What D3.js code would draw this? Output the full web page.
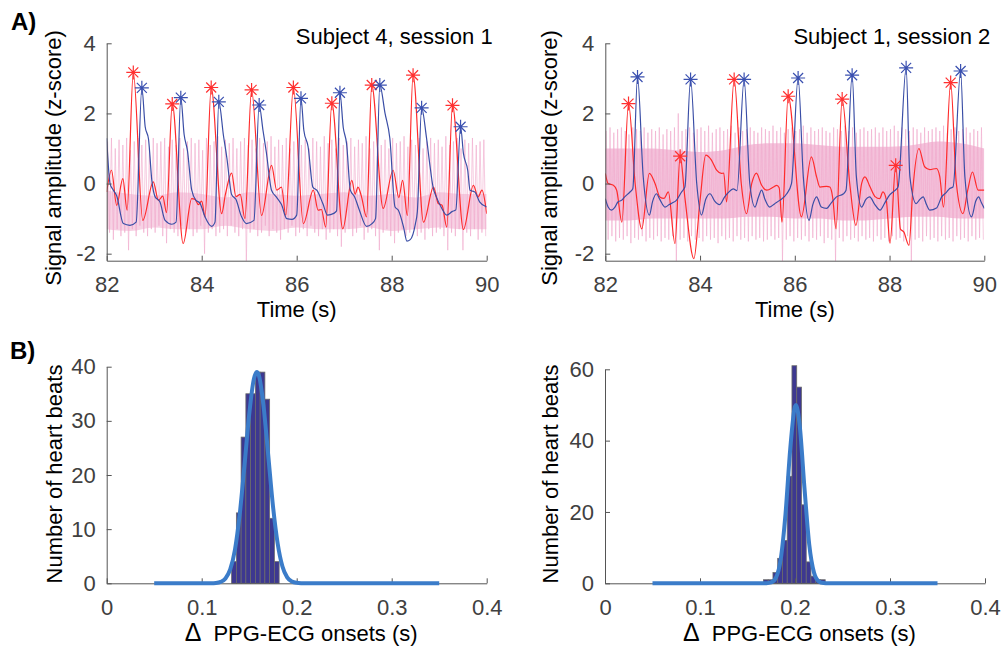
<!DOCTYPE html>
<meta charset="utf-8">
<script src="https://cdn.jsdelivr.net/npm/d3@7"></script>
<style>
body {margin: 0; background: #fff;}
svg text {font-family: "Liberation Sans", Arial, sans-serif;}
.axis path, .axis line {stroke: #555; stroke-width: 1;}
.axis text {fill: #404040; font-size: 22px; font-family: "Liberation Sans", Arial, sans-serif;}
</style>
<div id="vis"></div>
<script>
// ---- data ----
var timeTicks = [82, 84, 86, 88, 90];
var ampTicks = [-2, 0, 2, 4];
var delayTicks = [0, 0.1, 0.2, 0.3, 0.4];
var countTicksL = [0, 10, 20, 30, 40];
var countTicksR = [0, 20, 40, 60];

// Subject 4, session 1 : ECG (red) and PPG (blue), [time, z-score]
var ecgL = [[82.0,-0.24],[82.1,0.38],[82.21,-0.62],[82.34,0.14],[82.43,-0.76],[82.56,3.17],[82.76,-1.05],[82.98,0.05],[83.09,-0.48],[83.18,-0.36],[83.26,-0.83],[83.38,2.27],[83.61,-1.71],[83.79,-0.43],[83.86,-0.45],[83.93,-0.6],[84.0,-0.5],[84.07,-0.95],[84.2,2.74],[84.42,-0.86],[84.5,-0.3],[84.63,0.3],[84.72,-0.37],[84.81,-0.31],[84.91,-1.0],[85.05,2.67],[85.26,-0.91],[85.47,0.52],[85.58,-0.19],[85.68,-0.1],[85.77,-0.91],[85.93,2.74],[86.14,-1.14],[86.35,-0.19],[86.45,-0.76],[86.52,-0.74],[86.61,-1.24],[86.74,2.29],[86.97,-1.29],[87.16,0.09],[87.23,-0.3],[87.29,-0.1],[87.36,-0.35],[87.47,-0.95],[87.58,2.81],[87.82,-0.71],[88.03,0.38],[88.15,-0.4],[88.23,0.09],[88.33,-0.91],[88.45,3.09],[88.67,-1.1],[88.88,-0.1],[88.98,-0.57],[89.06,-0.62],[89.16,-1.24],[89.28,2.23],[89.51,-1.31],[89.72,-0.05],[89.82,-0.38],[89.9,-0.19],[90.0,-0.86]];
var ppgL = [[82.0,1.29],[82.07,0.0],[82.14,-0.19],[82.21,-0.35],[82.35,-1.14],[82.49,-1.19],[82.62,-1.1],[82.74,2.73],[82.81,1.62],[82.88,1.27],[82.95,0.09],[83.02,-0.38],[83.12,-0.52],[83.23,-1.05],[83.37,-1.16],[83.46,-1.1],[83.56,2.45],[83.63,1.4],[83.70,0.94],[83.79,-0.19],[83.88,-0.48],[83.96,-0.55],[84.07,-0.95],[84.21,-1.22],[84.28,-1.1],[84.36,2.33],[84.46,1.35],[84.53,0.73],[84.63,-0.31],[84.72,-0.45],[84.84,-0.95],[84.94,-1.14],[85.1,-1.05],[85.21,2.24],[85.29,1.52],[85.36,0.9],[85.47,-0.19],[85.57,-0.38],[85.68,-0.6],[85.79,-1.0],[85.9,-1.02],[86.0,-0.9],[86.09,2.43],[86.15,1.52],[86.24,1.05],[86.34,-0.1],[86.43,-0.2],[86.55,-0.57],[86.65,-0.9],[86.78,-0.85],[86.84,-0.78],[86.91,2.59],[86.98,1.6],[87.05,1.14],[87.13,-0.19],[87.22,-0.38],[87.32,-0.76],[87.47,-1.22],[87.58,-1.15],[87.66,-1.0],[87.75,2.81],[87.86,2.0],[87.96,1.3],[88.07,-0.67],[88.14,-0.76],[88.25,-1.24],[88.32,-1.64],[88.39,-1.6],[88.50,-1.14],[88.54,-0.8],[88.63,2.16],[88.73,1.33],[88.80,0.57],[88.87,-0.1],[88.94,-0.38],[89.04,-0.67],[89.16,-0.9],[89.27,-0.8],[89.35,-0.75],[89.45,1.62],[89.51,0.86],[89.6,0.38],[89.65,-0.19],[89.75,-0.24],[89.85,-0.52],[90.0,-0.67]];
var ecgPeakTL = [82.56,83.38,84.20,85.05,85.93,86.74,87.58,88.45,89.28];
var ecgPeakVL = [3.17,2.27,2.74,2.67,2.74,2.29,2.81,3.09,2.23];
var ppgPeakTL = [82.74,83.56,84.36,85.21,86.09,86.91,87.75,88.63,89.45];
var ppgPeakVL = [2.73,2.45,2.33,2.24,2.43,2.59,2.81,2.16,1.62];

// Subject 1, session 2
var ecgR = [[82.0,0.29],[82.06,0.0],[82.17,-0.05],[82.24,-0.19],[82.35,-1.1],[82.49,2.28],[82.63,0.0],[82.77,-1.29],[82.93,0.29],[83.05,0.0],[83.15,-0.38],[83.24,-0.42],[83.33,-0.24],[83.47,-1.71],[83.58,0.78],[83.68,-0.4],[83.87,-2.14],[84.0,-0.48],[84.12,0.81],[84.24,0.67],[84.35,0.38],[84.45,0.29],[84.5,0.3],[84.56,-0.52],[84.72,2.97],[84.87,0.0],[84.98,-0.86],[85.09,0.0],[85.19,0.3],[85.3,-0.05],[85.41,-0.19],[85.55,-0.1],[85.62,-0.05],[85.67,-0.12],[85.73,-1.1],[85.86,2.49],[86.14,-0.95],[86.35,0.76],[86.46,0.19],[86.53,-0.1],[86.67,-0.08],[86.74,-0.1],[86.8,-0.4],[86.87,-1.29],[87.0,2.41],[87.16,0.0],[87.29,-1.19],[87.41,0.0],[87.48,0.19],[87.59,-0.1],[87.70,-0.38],[87.79,-0.43],[87.86,-0.24],[87.93,-0.45],[88.01,-1.7],[88.13,0.52],[88.23,-1.3],[88.3,-1.38],[88.41,-1.76],[88.49,-0.19],[88.62,1.0],[88.74,0.48],[88.85,0.4],[88.99,0.43],[89.06,0.2],[89.14,-0.67],[89.29,2.88],[89.41,0.0],[89.55,-0.86],[89.65,-0.19],[89.75,0.33],[89.87,-0.19],[90.0,-0.19]];
var ppgR = [[82.0,-0.43],[82.06,-0.67],[82.13,-0.76],[82.2,-0.68],[82.27,-0.52],[82.34,-0.48],[82.41,-0.38],[82.52,-0.24],[82.58,-0.15],[82.68,3.04],[82.80,0.2],[82.93,-0.9],[83.0,-0.5],[83.08,-0.29],[83.15,-0.45],[83.26,-0.67],[83.35,-0.6],[83.42,-0.55],[83.50,-0.48],[83.61,-0.24],[83.68,-0.1],[83.80,2.97],[83.93,0.0],[84.03,-0.9],[84.12,-0.45],[84.21,-0.29],[84.31,-0.5],[84.41,-0.6],[84.52,-0.38],[84.6,-0.25],[84.7,-0.15],[84.78,-0.2],[84.93,2.97],[85.05,0.0],[85.16,-0.67],[85.23,-0.4],[85.30,-0.19],[85.37,-0.45],[85.47,-0.67],[85.57,-0.58],[85.68,-0.48],[85.83,-0.29],[85.93,0.0],[86.07,3.01],[86.18,0.19],[86.30,-1.05],[86.38,-0.6],[86.46,-0.38],[86.56,-0.67],[86.67,-0.71],[86.77,-0.55],[86.88,-0.38],[87.02,-0.3],[87.08,-0.2],[87.21,3.09],[87.30,0.19],[87.41,-0.67],[87.5,-0.45],[87.58,-0.38],[87.69,-0.6],[87.80,-0.76],[87.9,-0.55],[88.0,-0.33],[88.11,-0.2],[88.18,-0.1],[88.35,3.3],[88.43,0.19],[88.56,-0.57],[88.64,-0.45],[88.71,-0.38],[88.78,-0.6],[88.85,-0.76],[88.99,-0.7],[89.1,-0.38],[89.2,-0.25],[89.27,-0.14],[89.34,-0.1],[89.50,3.21],[89.59,0.19],[89.73,-0.95],[89.82,-0.5],[89.88,-0.38],[89.94,-0.55],[90.0,-0.71]];
var ecgPeakTR = [82.49,83.58,84.72,85.86,87.0,88.13,89.29];
var ecgPeakVR = [2.28,0.78,2.97,2.49,2.41,0.52,2.88];
var ppgPeakTR = [82.68,83.80,84.93,86.07,87.21,88.35,89.50];
var ppgPeakVR = [3.04,2.97,2.97,3.01,3.09,3.3,3.21];

// pink high-frequency trace: one crest and one trough per 0.08 s
var pinkStep = 0.08;
var pinkTopL = [1.2,1.3,1.0,1.25,1.1,1.3,0.95,1.2,1.3,1.1, 1.25,1.0,1.3,1.15,1.2,1.3,1.05,1.25,1.1,1.3, 1.0,1.2,1.3,1.15,1.25,0.95,1.3,1.1,1.2,1.35, 1.05,1.25,1.15,1.3,1.0,1.2,1.3,1.1,1.25,1.0, 1.3,1.15,1.2,1.35,1.05,1.25,1.1,1.3,1.0,1.2, 1.3,1.1,1.25,1.0,1.3,1.2,1.05,1.35,1.15,1.25, 1.0,1.3,1.1,1.2,1.3,1.05,1.25,1.15,1.35,1.0, 1.2,1.3,1.1,1.25,1.0,1.3,1.15,1.2,1.35,1.05, 1.25,1.1,1.3,1.0,1.2,1.3,1.15,1.25,1.05,1.35, 1.1,1.2,1.3,1.0,1.25,1.15,1.3,1.1,1.2,1.25];
var pinkBotL = [-1.4,-1.6,-1.3,-1.5,-1.4,-1.9,-1.3,-1.5,-1.2,-1.4, -1.5,-1.3,-1.4,-1.2,-1.5,-1.7,-1.3,-1.4,-1.5,-1.2, -1.4,-1.3,-1.5,-1.4,-1.2,-2.0,-1.4,-1.3,-1.5,-1.4, -1.3,-1.5,-1.2,-1.4,-1.5,-1.3,-2.25,-1.4,-1.3,-1.5, -1.4,-1.2,-1.5,-1.3,-1.4,-1.6,-1.3,-1.4,-1.2,-1.5, -1.4,-1.3,-1.5,-1.2,-1.4,-1.5,-1.3,-1.6,-1.4,-1.3, -1.5,-1.8,-1.4,-1.3,-1.5,-1.4,-1.2,-1.6,-1.4,-1.3, -1.5,-1.9,-1.4,-1.3,-1.5,-1.7,-1.4,-1.3,-1.5,-1.4, -1.3,-1.5,-1.4,-1.6,-1.3,-1.5,-1.4,-1.3,-1.5,-1.9, -1.4,-1.5,-1.3,-1.9,-1.4,-1.5,-1.3,-1.6,-1.4,-1.5];
var pinkTopR = [1.5,1.6,1.45,1.55,1.6,1.5,1.4,1.6,1.55,1.5, 1.6,1.45,1.55,1.5,1.6,1.4,1.55,1.5,1.6,2.0, 1.5,1.55,1.6,1.45,1.55,1.6,1.5,1.65,1.45,1.55, 1.6,1.5,1.55,1.65,1.45,1.6,1.5,1.55,1.6,1.5, 1.45,1.6,1.55,1.5,1.65,1.5,1.6,1.45,1.55,1.6, 1.5,1.55,1.65,1.45,1.6,1.5,1.55,1.6,1.5,1.45, 1.6,1.55,1.5,1.65,1.5,1.6,1.45,1.55,1.6,1.5, 1.55,1.6,1.45,1.6,1.5,1.55,1.65,1.5,1.6,1.55, 1.5,1.6,1.55,1.45,1.6,1.5,1.55,1.6,1.5,1.65, 1.45,1.55,1.6,1.5,1.55,1.6,1.45,1.55,1.5,1.6];
var pinkBotR = [-1.6,-1.5,-1.65,-1.55,-1.6,-1.5,-1.7,-1.55,-1.6,-1.5, -1.65,-1.55,-1.6,-1.5,-1.65,-1.55,-1.6,-1.5,-2.25,-1.6, -1.55,-1.65,-1.5,-1.6,-1.55,-1.65,-1.5,-1.6,-1.55,-1.7, -1.5,-1.6,-1.55,-1.65,-1.5,-1.6,-1.55,-1.65,-1.5,-1.6, -1.55,-1.65,-1.6,-1.5,-1.6,-1.55,-2.25,-1.6,-1.5,-1.65, -1.55,-1.6,-1.5,-1.65,-1.55,-1.6,-1.5,-1.7,-1.55,-1.6, -2.25,-1.55,-1.65,-1.5,-1.6,-1.55,-1.65,-1.5,-1.6,-1.55, -1.65,-1.5,-1.6,-1.55,-1.65,-1.5,-1.6,-1.55,-1.65,-1.5, -2.25,-1.6,-1.55,-1.65,-1.5,-1.6,-1.55,-1.65,-1.5,-1.6, -1.55,-1.65,-1.5,-1.6,-1.55,-1.65,-1.5,-1.6,-1.55,-1.6];
// denser core of the pink trace, every 0.5 s
var bandT = [82,82.5,83,83.5,84,84.5,85,85.5,86,86.5,87,87.5,88,88.5,89,89.5,90];
var bandHiL = [-0.2,-0.3,-0.35,-0.25,-0.3,-0.4,-0.25,-0.3,-0.35,-0.3,-0.25,-0.35,-0.3,-0.4,-0.25,-0.3,-0.3];
var bandLoL = [-1.3,-1.35,-1.25,-1.3,-1.3,-1.2,-1.3,-1.35,-1.25,-1.3,-1.3,-1.25,-1.35,-1.3,-1.25,-1.3,-1.3];
var bandHiR = [1.0,1.0,1.0,0.95,0.9,0.95,1.1,1.15,1.15,1.1,1.05,1.05,1.05,1.1,1.2,1.15,1.0];
var bandLoR = [-1.05,-1.05,-1.0,-1.0,-1.0,-1.0,-0.95,-0.95,-1.0,-1.0,-1.05,-1.05,-1.0,-0.95,-0.95,-1.0,-1.0];

// histograms of PPG-ECG onset delays (bin width 0.005 s)
var binWidth = 0.005;
var histEdgesL = [0.1315,0.1365,0.1415,0.1465,0.1515,0.1565,0.1615,0.1665,0.1715,0.1765];
var histCountsL = [4,13,27,35,35,39,39,34,12,4];
var histEdgesR = [0.1668,0.1718,0.1768,0.1818,0.1868,0.1918,0.1968,0.2018,0.2068,0.2118,0.2168,0.2218,0.2268];
var histCountsR = [1,1,3,7,12,30,61,55,22,6,2,1,1];
// fitted curves
var fitXL = [0.05,0.11,0.115,0.12,0.125,0.13,0.135,0.14,0.145,0.15,0.155,0.158,0.16,0.165,0.17,0.175,0.18,0.185,0.19,0.195,0.2,0.205,0.21,0.35];
var fitYL = [0,0.01,0.06,0.26,0.89,2.56,6.2,12.7,21.7,31.2,37.8,39,38.5,32.9,23.7,14.3,7.3,3.1,1.1,0.34,0.09,0.02,0,0];
var fitXR = [0.05,0.165,0.17,0.175,0.18,0.185,0.19,0.195,0.2,0.201,0.205,0.21,0.215,0.22,0.225,0.23,0.235,0.35];
var fitYR = [0,0,0.03,0.25,1.6,6.8,19.4,37.7,49.6,50,44.1,26.6,10.8,3.0,0.56,0.07,0,0];

// ---- drawing ----
var svg = d3.select("#vis").append("svg")
    .attr("width", 1001)
    .attr("height", 650);
svg.append("rect").attr("width", 1001).attr("height", 650).attr("fill", "#fff");

var font = "'Liberation Sans', Arial, sans-serif";

function star(g, x, y, ts, vs, color) {
  var s = 7, d = 5;
  g.selectAll(null).data(ts).enter().append("path")
    .attr("transform", function(t, i) { return "translate(" + x(t) + "," + y(vs[i]) + ")"; })
    .attr("d", "M" + (-s) + ",0H" + s + "M0," + (-s) + "V" + s +
               "M" + (-d) + "," + (-d) + "L" + d + "," + d + "M" + (-d) + "," + d + "L" + d + "," + (-d))
    .attr("stroke", color)
    .attr("stroke-width", 1.2)
    .attr("fill", "none");
}

function axes(x, y, xt, yt, pad) {
  svg.append("g").attr("class", "axis")
    .attr("transform", "translate(0," + y.range()[0] + ")")
    .call(d3.axisBottom(x).tickValues(xt).tickSizeInner(-5).tickSizeOuter(0).tickPadding(16)
      .tickFormat(function(d) { return String(d); }));
  svg.append("g").attr("class", "axis")
    .attr("transform", "translate(" + x.range()[0] + ",0)")
    .call(d3.axisLeft(y).tickValues(yt).tickSizeInner(-5).tickSizeOuter(0).tickPadding(pad)
      .tickFormat(function(d) { return String(d); }));
  svg.selectAll(".axis .domain").attr("stroke", "#555");
  svg.selectAll(".axis text").attr("font-family", font).attr("font-size", 22).attr("fill", "#404040");
}

function signalPanel(id, x0, x1, ecg, ppg, pTop, pBot, bHi, bLo, bandColor, eT, eV, pT, pV, title, labelX) {
  var x = d3.scaleLinear().domain([82, 90]).range([x0, x1]);
  var y = d3.scaleLinear().domain([-2.2, 4]).range([260.7, 43.3]);

  svg.append("clipPath").attr("id", id).append("rect")
    .attr("x", x0).attr("y", 20).attr("width", x1 - x0).attr("height", 260.7 - 20);
  var plot = svg.append("g").attr("clip-path", "url(#" + id + ")");

  plot.append("path")
    .datum(bandT)
    .attr("fill", bandColor)
    .attr("d", d3.area()
      .x(function(t) { return x(t); })
      .y0(function(t, i) { return y(bLo[i]); })
      .y1(function(t, i) { return y(bHi[i]); })
      .curve(d3.curveMonotoneX));

  var pts = [];
  pTop.forEach(function(v, i) {
    pts.push([82 + pinkStep * i + 0.02, v]);
    pts.push([82 + pinkStep * i + 0.06, pBot[i]]);
  });
  var line = d3.line().x(function(d) { return x(d[0]); }).y(function(d) { return y(d[1]); });
  plot.append("path").datum(pts)
    .attr("fill", "none").attr("stroke", "#f0a8cb").attr("stroke-width", 0.6)
    .attr("d", line);

  var smooth = d3.line().x(function(d) { return x(d[0]); }).y(function(d) { return y(d[1]); })
    .curve(d3.curveMonotoneX);
  plot.append("path").datum(ecg)
    .attr("fill", "none").attr("stroke", "#ff2b2b").attr("stroke-width", 1.2).attr("d", smooth);
  plot.append("path").datum(ppg)
    .attr("fill", "none").attr("stroke", "#3a4ea6").attr("stroke-width", 1.2).attr("d", smooth);

  star(svg, x, y, eT, eV, "#ff3030");
  star(svg, x, y, pT, pV, "#3a50b0");

  axes(x, y, timeTicks, ampTicks, 11);

  svg.append("text").attr("x", x1 + 6).attr("y", 44).attr("text-anchor", "end")
    .attr("font-family", font).attr("font-size", 22).attr("fill", "#000").text(title);
  svg.append("text").attr("x", (x0 + x1) / 2).attr("y", 317).attr("text-anchor", "middle")
    .attr("font-family", font).attr("font-size", 22).attr("fill", "#000").text("Time (s)");
  svg.append("text").attr("transform", "translate(" + labelX + ",158) rotate(-90)")
    .attr("text-anchor", "middle").attr("font-family", font).attr("font-size", 22).attr("fill", "#000")
    .text("Signal amplitude (z-score)");
}

function histPanel(x0, x1, ymax, yt, edges, counts, fx, fy, labelX) {
  var x = d3.scaleLinear().domain([0, 0.4]).range([x0, x1]);
  var y = d3.scaleLinear().domain([0, ymax]).range([583.3, ymax == 40 ? 366.7 : 369.3]);

  svg.append("g").selectAll("rect").data(counts).enter().append("rect")
    .attr("x", function(d, i) { return x(edges[i]); })
    .attr("y", function(d) { return y(d); })
    .attr("width", function(d, i) { return x(edges[i] + binWidth) - x(edges[i]); })
    .attr("height", function(d) { return y(0) - y(d); })
    .attr("fill", "#3d3890")
    .attr("stroke", "#6a6a6a")
    .attr("stroke-width", 0.8);

  axes(x, y, delayTicks, yt, 11);

  svg.append("path").datum(fx)
    .attr("fill", "none").attr("stroke", "#3b7cc9").attr("stroke-width", 4)
    .attr("d", d3.line()
      .x(function(d) { return x(d); })
      .y(function(d, i) { return y(fy[i]); })
      .curve(d3.curveMonotoneX));

  var t = svg.append("text").attr("x", x0 + 78).attr("y", 641)
    .attr("font-family", font).attr("font-size", 22).attr("fill", "#000");
  t.append("tspan").attr("font-size", 25).text("\u0394");
  t.append("tspan").attr("dx", 12).text("PPG-ECG onsets (s)");

  svg.append("text").attr("transform", "translate(" + labelX + ",474) rotate(-90)")
    .attr("text-anchor", "middle").attr("font-family", font).attr("font-size", 22).attr("fill", "#000")
    .text("Number of heart beats");
}

signalPanel("clipL", 106.7, 486.7, ecgL, ppgL, pinkTopL, pinkBotL, bandHiL, bandLoL, "#f7d2e4",
  ecgPeakTL, ecgPeakVL, ppgPeakTL, ppgPeakVL, "Subject 4, session 1", 61);
signalPanel("clipR", 605.3, 984.3, ecgR, ppgR, pinkTopR, pinkBotR, bandHiR, bandLoR, "#f4c2db",
  ecgPeakTR, ecgPeakVR, ppgPeakTR, ppgPeakVR, "Subject 1, session 2", 557);

histPanel(106.7, 486.7, 40, countTicksL, histEdgesL, histCountsL, fitXL, fitYL, 62);
histPanel(605, 985, 60, countTicksR, histEdgesR, histCountsR, fitXR, fitYR, 558);

svg.append("text").attr("x", 11).attr("y", 30).attr("font-family", font)
  .attr("font-size", 24).attr("font-weight", "bold").text("A)");
svg.append("text").attr("x", 10).attr("y", 359).attr("font-family", font)
  .attr("font-size", 24).attr("font-weight", "bold").text("B)");
</script>
